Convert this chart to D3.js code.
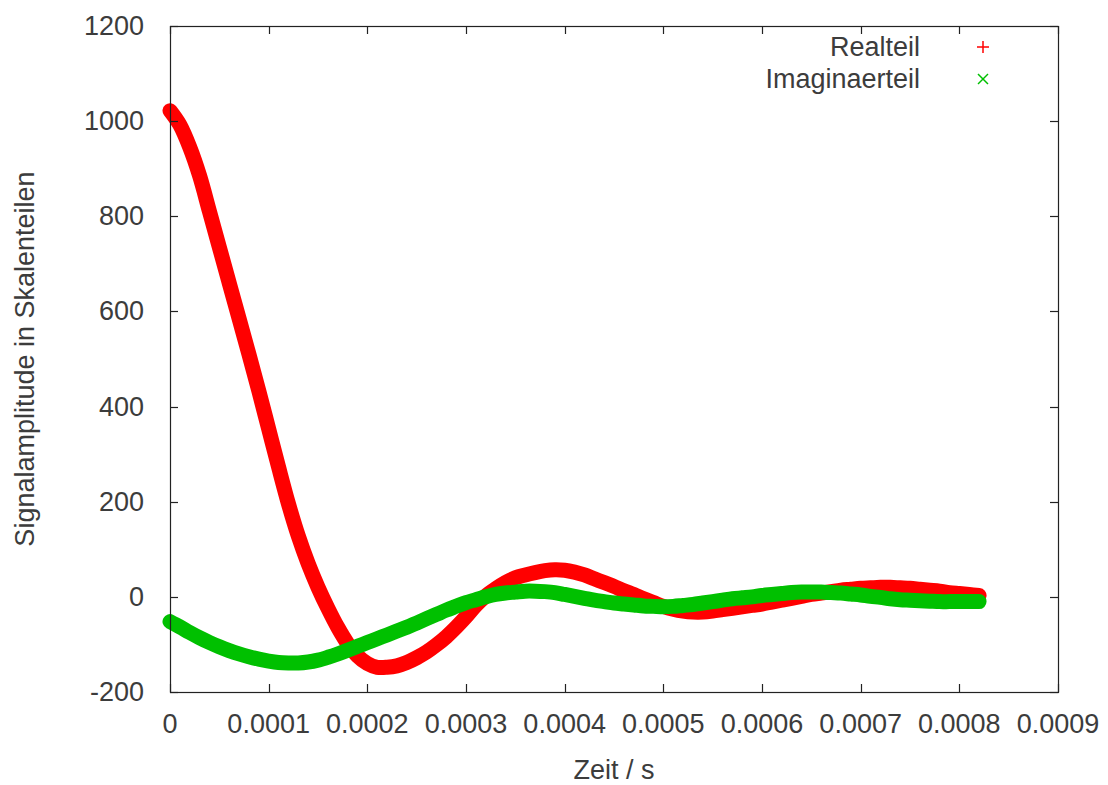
<!DOCTYPE html>
<html>
<head>
<meta charset="utf-8">
<script src="https://cdn.jsdelivr.net/npm/d3@7"></script>
<style>
  body { margin: 0; background: #fff; }
  text { font-family: "Liberation Sans", Arial, sans-serif; fill: #3c3c3c; }
</style>
</head>
<body>
<div id="chart"></div>
<script>
// sample times in microseconds
const timeUs = [0, 10, 20, 30, 40, 50, 60, 70, 80, 90,
    100, 110, 120, 130, 140, 150, 160, 170, 180, 190,
    200, 210, 220, 230, 240, 250, 260, 270, 280, 290,
    300, 310, 320, 330, 340, 350, 360, 370, 380, 390,
    400, 410, 420, 430, 440, 450, 460, 470, 480, 490,
    500, 510, 520, 530, 540, 550, 560, 570, 580, 590,
    600, 610, 620, 630, 640, 650, 660, 670, 680, 690,
    700, 710, 720, 730, 740, 750, 760, 770, 780, 790,
    800, 810, 820];

const realteil = [1022, 992, 945, 885, 810, 735, 660, 585, 510, 433,
    353, 273, 196, 128, 70, 20, -24, -64, -98, -124,
    -140, -148, -148, -145, -138, -128, -116, -101, -84, -64,
    -42, -18, 2, 17, 30, 40, 46, 51, 55, 57,
    56, 52, 46, 38, 30, 22, 13, 5, -4, -12,
    -20, -26, -30, -32, -32, -30, -27, -24, -21, -18,
    -15, -11, -7, -3, 1, 5, 8, 11, 14, 16,
    18, 19, 20, 20, 19, 18, 16, 14, 12, 9,
    7, 5, 3];

const imaginaerteil = [-52, -63, -75, -86, -96, -105, -113, -120, -126, -131,
    -135, -138, -139, -139, -137, -133, -127, -120, -112, -104,
    -96, -88, -80, -72, -64, -55, -46, -37, -28, -20,
    -12, -6, 0, 5, 8, 10, 12, 12, 11, 9,
    5, 1, -3, -7, -10, -13, -15, -17, -19, -20,
    -21, -20, -18, -16, -13, -10, -7, -4, -2, 0,
    3, 5, 7, 9, 10, 10, 10, 9, 8, 6,
    4, 1, -1, -4, -6, -7, -8, -9, -10, -10,
    -10, -10, -10];

const xTicks = [0, 0.0001, 0.0002, 0.0003, 0.0004, 0.0005, 0.0006, 0.0007, 0.0008, 0.0009];
const xTickLabels = ['0', '0.0001', '0.0002', '0.0003', '0.0004', '0.0005', '0.0006', '0.0007', '0.0008', '0.0009'];
const yTicks = [-200, 0, 200, 400, 600, 800, 1000, 1200];

const seriesNames = ['Realteil', 'Imaginaerteil'];
const seriesColors = ['#ff0000', '#00c000'];

const width = 1108;
const height = 785;
const margin = {top: 26, right: 50, bottom: 93, left: 170};
const plotW = width - margin.left - margin.right;
const plotH = height - margin.top - margin.bottom;
const fontSize = 27;

const x = d3.scaleLinear().domain([0, 0.0009]).range([0, plotW]);
const y = d3.scaleLinear().domain([-200, 1200]).range([plotH, 0]);

const svg = d3.select('#chart').append('svg')
    .attr('width', width)
    .attr('height', height);

const g = svg.append('g')
    .attr('transform', `translate(${margin.left}, ${margin.top})`);

// dense marker bands drawn as thick strokes
const series = [realteil, imaginaerteil].map((vals, i) => ({
    name: seriesNames[i],
    color: seriesColors[i],
    points: vals.map((v, j) => ({t: timeUs[j] * 1e-6, v}))
}));

const line = d3.line()
    .x(d => x(d.t))
    .y(d => y(d.v))
    .curve(d3.curveCatmullRom.alpha(0.5));

g.selectAll('path.series')
    .data(series)
    .enter()
    .append('path')
    .attr('class', 'series')
    .attr('d', d => line(d.points))
    .attr('fill', 'none')
    .attr('stroke', d => d.color)
    .attr('stroke-width', 15)
    .attr('stroke-linecap', 'round')
    .attr('stroke-linejoin', 'round');

// border box
g.append('rect')
    .attr('x', 0.5)
    .attr('y', 0.5)
    .attr('width', plotW)
    .attr('height', plotH)
    .attr('fill', 'none')
    .attr('stroke', '#222')
    .attr('stroke-width', 1.2);

// ticks on all four sides, pointing inward
const tickLen = 8;
const tickColor = '#222';
xTicks.forEach((t, i) => {
    const px = Math.round(x(t)) + 0.5;
    g.append('line').attr('x1', px).attr('x2', px)
        .attr('y1', plotH).attr('y2', plotH - tickLen)
        .attr('stroke', tickColor).attr('stroke-width', 1.2);
    g.append('line').attr('x1', px).attr('x2', px)
        .attr('y1', 0).attr('y2', tickLen)
        .attr('stroke', tickColor).attr('stroke-width', 1.2);
    g.append('text')
        .attr('x', x(t))
        .attr('y', plotH + 41)
        .attr('text-anchor', 'middle')
        .attr('font-size', fontSize)
        .text(xTickLabels[i]);
});

yTicks.forEach(v => {
    const py = Math.round(y(v)) + 0.5;
    g.append('line').attr('x1', 0).attr('x2', tickLen)
        .attr('y1', py).attr('y2', py)
        .attr('stroke', tickColor).attr('stroke-width', 1.2);
    g.append('line').attr('x1', plotW).attr('x2', plotW - tickLen)
        .attr('y1', py).attr('y2', py)
        .attr('stroke', tickColor).attr('stroke-width', 1.2);
    g.append('text')
        .attr('x', -26)
        .attr('y', y(v) + 9)
        .attr('text-anchor', 'end')
        .attr('font-size', fontSize)
        .text(v);
});

// axis titles
svg.append('text')
    .attr('x', margin.left + plotW / 2)
    .attr('y', 779)
    .attr('text-anchor', 'middle')
    .attr('font-size', fontSize)
    .text('Zeit / s');

svg.append('text')
    .attr('transform', `translate(34, ${margin.top + plotH / 2}) rotate(-90)`)
    .attr('text-anchor', 'middle')
    .attr('font-size', fontSize)
    .text('Signalamplitude in Skalenteilen');

// legend
const legend = svg.append('g');
series.forEach((s, i) => {
    const ly = 47 + i * 32;
    legend.append('text')
        .attr('x', 920)
        .attr('y', ly + 9)
        .attr('text-anchor', 'end')
        .attr('font-size', fontSize)
        .text(s.name);
    const m = legend.append('g')
        .attr('transform', `translate(983, ${ly})`)
        .attr('stroke', s.color)
        .attr('stroke-width', 1.5);
    if (i === 0) {
        m.append('line').attr('x1', -6).attr('x2', 6).attr('y1', 0).attr('y2', 0);
        m.append('line').attr('x1', 0).attr('x2', 0).attr('y1', -6).attr('y2', 6);
    } else {
        m.append('line').attr('x1', -5).attr('x2', 5).attr('y1', -5).attr('y2', 5);
        m.append('line').attr('x1', -5).attr('x2', 5).attr('y1', 5).attr('y2', -5);
    }
});
</script>
</body>
</html>
